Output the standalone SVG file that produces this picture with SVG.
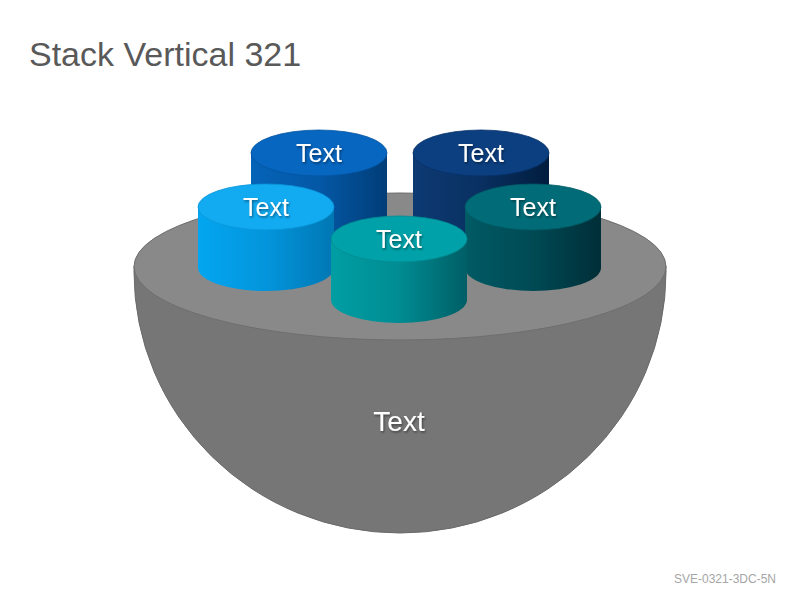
<svg xmlns="http://www.w3.org/2000/svg" width="800" height="600" viewBox="0 0 800 600">
<defs>
<style>
.lbl{font-family:"Liberation Sans",Arial,sans-serif;fill:#ffffff;text-anchor:middle;filter:url(#sh)}
.top{stroke-width:0.8}
</style>
<filter id="sh" x="-20%" y="-20%" width="140%" height="140%">
<feDropShadow dx="1" dy="1.5" stdDeviation="1" flood-color="#000000" flood-opacity="0.45"/>
</filter>
<linearGradient id="g1" x1="0" y1="0" x2="1" y2="0"><stop offset="0" stop-color="#0563b8"/><stop offset="0.5" stop-color="#0458a6"/><stop offset="1" stop-color="#013d78"/></linearGradient>
<linearGradient id="g2" x1="0" y1="0" x2="1" y2="0"><stop offset="0" stop-color="#0d3a73"/><stop offset="0.5" stop-color="#093061"/><stop offset="1" stop-color="#011d3e"/></linearGradient>
<linearGradient id="g3" x1="0" y1="0" x2="1" y2="0"><stop offset="0" stop-color="#03a6f0"/><stop offset="0.5" stop-color="#0395dc"/><stop offset="1" stop-color="#0077b3"/></linearGradient>
<linearGradient id="g4" x1="0" y1="0" x2="1" y2="0"><stop offset="0" stop-color="#005a64"/><stop offset="0.5" stop-color="#004a54"/><stop offset="1" stop-color="#002e38"/></linearGradient>
<linearGradient id="g5" x1="0" y1="0" x2="1" y2="0"><stop offset="0" stop-color="#009ea3"/><stop offset="0.5" stop-color="#008c92"/><stop offset="1" stop-color="#005e66"/></linearGradient>
</defs>
<rect width="800" height="600" fill="#ffffff"/>
<text x="29" y="66" font-family="Liberation Sans,Arial,sans-serif" font-size="34" fill="#595959">Stack Vertical 321</text>
<text x="776" y="583" font-family="Liberation Sans,Arial,sans-serif" font-size="12" fill="#a6a6a6" text-anchor="end">SVE-0321-3DC-5N</text>

<g id="bowl">
<path d="M134,266 L134,272 A266,261 0 0 0 666,272 L666,266 Z" fill="#767676" stroke="#6a6a6a" stroke-width="1"/>
<ellipse cx="400" cy="266.5" rx="266" ry="73.5" fill="#898989" stroke="#6e6e6e" stroke-width="1"/>
<text class="lbl" x="399" y="431" font-size="28">Text</text>
</g>

<g id="cyl-back-left">
<path d="M251,153 L251,215 A68,23 0 0 0 387,215 L387,153 Z" fill="url(#g1)"/>
<ellipse class="top" cx="319" cy="153" rx="68" ry="23" fill="#0766c0" stroke="#04549f"/>
<text class="lbl" x="319" y="162" font-size="25">Text</text>
</g>

<g id="cyl-back-right">
<path d="M413,153 L413,215 A68,23 0 0 0 549,215 L549,153 Z" fill="url(#g2)"/>
<ellipse class="top" cx="481" cy="153" rx="68" ry="23" fill="#0c3f80" stroke="#08316a"/>
<text class="lbl" x="481" y="162" font-size="25">Text</text>
</g>

<g id="cyl-front-left">
<path d="M198,207 L198,268 A68,23 0 0 0 334,268 L334,207 Z" fill="url(#g3)"/>
<ellipse class="top" cx="266" cy="207" rx="68" ry="23" fill="#12abf2" stroke="#0a95d8"/>
<text class="lbl" x="266" y="216" font-size="25">Text</text>
</g>

<g id="cyl-front-right">
<path d="M465,207 L465,268 A68,23 0 0 0 601,268 L601,207 Z" fill="url(#g4)"/>
<ellipse class="top" cx="533" cy="207" rx="68" ry="23" fill="#016c78" stroke="#005a64"/>
<text class="lbl" x="533" y="216" font-size="25">Text</text>
</g>

<g id="cyl-center">
<path d="M331,239 L331,300 A68,23 0 0 0 467,300 L467,239 Z" fill="url(#g5)"/>
<ellipse class="top" cx="399" cy="239" rx="68" ry="23" fill="#00a1a8" stroke="#008c92"/>
<text class="lbl" x="399" y="248" font-size="25">Text</text>
</g>
</svg>
